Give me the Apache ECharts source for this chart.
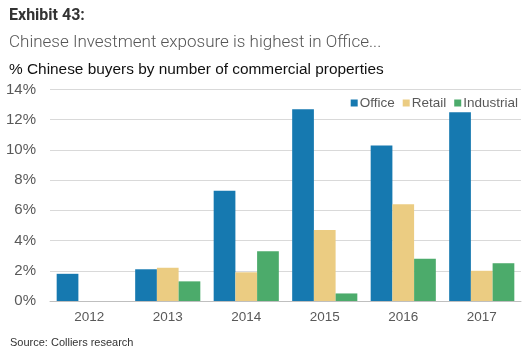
<!DOCTYPE html>
<html>
<head>
<meta charset="utf-8">
<script src="https://cdn.jsdelivr.net/npm/echarts@6/dist/echarts.min.js"></script>
<style>
  html, body { margin: 0; padding: 0; background: #fff; }
  #chart { width: 530px; height: 346px; }
</style>
</head>
<body>
<div id="chart"></div>
<script>
// Share of commercial property purchases made by Chinese buyers (%)
const years = ['2012', '2013', '2014', '2015', '2016', '2017'];
const office = [1.8, 2.1, 7.3, 12.7, 10.3, 12.5];
const retail = [0, 2.2, 1.9, 4.7, 6.4, 2.0];
const industrial = [0, 1.3, 3.3, 0.5, 2.8, 2.5];
const seriesNames = ['Office', 'Retail', 'Industrial'];
const seriesColors = ['#1679b0', '#ebcc82', '#4cab6b'];

const chart = echarts.init(document.getElementById('chart'));
const values = [office, retail, industrial];

chart.setOption({
  animation: false,
  title: [
    { text: 'Exhibit 43:', left: 4, top: 3,
      textStyle: { fontFamily: 'Roboto', fontWeight: 'bold', fontSize: 16, color: '#333' } },
    { text: 'Chinese Investment exposure is highest in Office...', left: 4, top: 29,
      textStyle: { fontFamily: 'Roboto', fontWeight: 300, fontSize: 17, color: '#555' } },
    { text: '% Chinese buyers by number of commercial properties', left: 4, top: 57,
      textStyle: { fontFamily: 'Liberation Sans', fontWeight: 'normal', fontSize: 15.4, color: '#111' } },
    { text: 'Source: Colliers research', left: 5, top: 331,
      textStyle: { fontFamily: 'Liberation Sans', fontWeight: 'normal', fontSize: 11, color: '#333', lineHeight: 13 } }
  ],
  legend: {
    right: 7, top: 91, itemWidth: 7, itemHeight: 7, itemGap: 8,
    icon: 'rect',
    textStyle: { fontFamily: 'Liberation Sans', fontSize: 13.5, color: '#595959', padding: [0, 0, 0, -3] },
    data: seriesNames
  },
  grid: { left: 50, right: 9, top: 89.5, bottom: 45 },
  xAxis: {
    type: 'category', data: years,
    axisLine: { lineStyle: { color: '#bfbfbf', width: 1 } },
    axisTick: { show: false },
    axisLabel: { fontFamily: 'Liberation Sans', fontSize: 13.5, color: '#595959', margin: 9 }
  },
  yAxis: {
    type: 'value', min: 0, max: 14, interval: 2,
    axisLine: { show: false }, axisTick: { show: false },
    splitLine: { lineStyle: { color: '#d9d9d9', width: 1 } },
    axisLabel: { fontFamily: 'Liberation Sans', fontSize: 15, color: '#595959', margin: 14,
      formatter: v => v + '%' }
  },
  series: seriesNames.map((name, i) => ({
    name, type: 'bar', data: values[i],
    itemStyle: { color: seriesColors[i] },
    barGap: '0%', barCategoryGap: '17%'
  }))
});
</script>
</body>
</html>
